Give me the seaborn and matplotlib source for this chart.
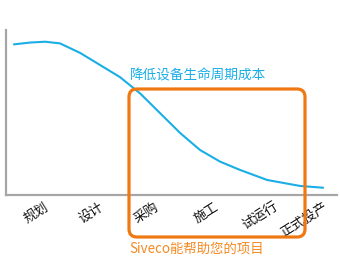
import matplotlib
matplotlib.use("Agg")
import matplotlib.pyplot as plt
from matplotlib.patches import FancyBboxPatch
import seaborn as sns
import pandas as pd

# ---- data ----
stages = ["规划", "设计", "采购", "施工", "试运行", "正式投产"]
stage_pos = [12.4, 29.0, 45.9, 64.0, 81.9, 97.0]

curve_x = [2.4, 7.3, 11.8, 16.3, 22.4, 28.4, 34.4, 40.5, 46.5, 52.6, 58.6, 64.7, 70.7, 78.9, 88.8, 95.8]
curve_y = [91.3, 92.4, 92.9, 91.9, 86.1, 78.8, 71.5, 61.6, 49.7, 37.6, 27.3, 20.2, 15.2, 9.1, 5.5, 4.4]

curve_label = "降低设备生命周期成本"
box_label = "Siveco能帮助您的项目"

BLUE = "#1aaee6"
ORANGE = "#f07812"
ORANGE_TXT = "#f58a22"
GRAY = "#a6a6a6"

sns.set_theme(style="white")
plt.rcParams["font.family"] = ["Noto Sans CJK SC", "DejaVu Sans"]

fig = plt.figure(figsize=(3.4, 2.8), dpi=100)
ax = fig.add_axes([6 / 340, (280 - 195) / 280, 331 / 340, 165 / 280])

df = pd.DataFrame({"x": curve_x, "y": curve_y})
sns.lineplot(data=df, x="x", y="y", ax=ax, color=BLUE, linewidth=1.5, sort=False)

ax.set_xlim(0, 100)
ax.set_ylim(0, 100)
ax.set_xlabel("")
ax.set_ylabel("")
ax.set_yticks([])
ax.set_xticks(stage_pos)
ax.set_xticklabels(stages, rotation=32, ha="right", va="center",
                   rotation_mode="anchor", fontsize=9.5, color="#111111")
ax.tick_params(axis="x", length=0, pad=8)

for s in ["top", "right"]:
    ax.spines[s].set_visible(False)
for s in ["left", "bottom"]:
    ax.spines[s].set_color(GRAY)
    ax.spines[s].set_linewidth(1.6)

ax.text(0.375, 0.727, curve_label, transform=ax.transAxes, color=BLUE,
        fontsize=9.8, ha="left", va="center")
ax.text(0.372, -0.327, box_label, transform=ax.transAxes, color=ORANGE_TXT,
        fontsize=9.6, ha="left", va="center", clip_on=False)

box = FancyBboxPatch((1.29, 0.43), 3.05 - 1.29, 1.91 - 0.43,
                     boxstyle="round,pad=0,rounding_size=0.08",
                     transform=fig.dpi_scale_trans, fill=False,
                     edgecolor=ORANGE, linewidth=2.3, zorder=5)
fig.patches.append(box)

fig.savefig("out.png", dpi=100)
